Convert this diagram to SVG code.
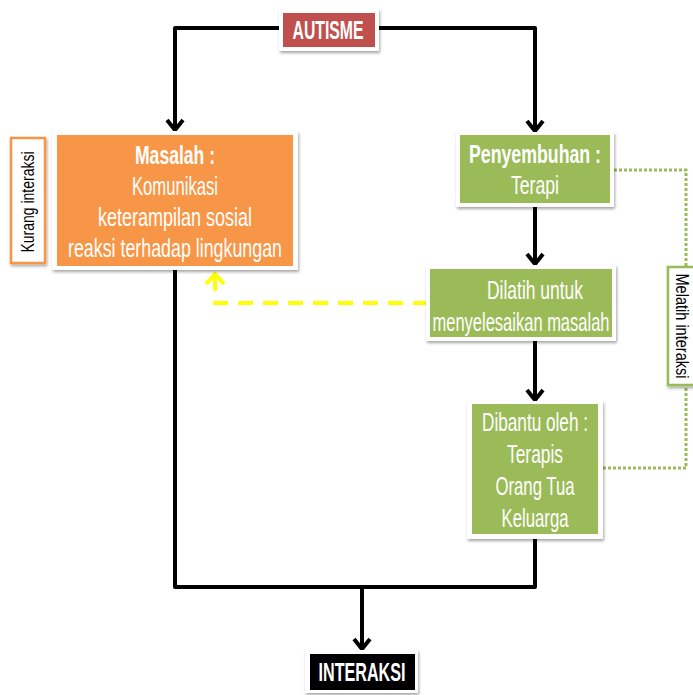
<svg xmlns="http://www.w3.org/2000/svg" width="693" height="695" viewBox="0 0 693 695">
<style>
.t{font-family:"Liberation Sans",Arial,sans-serif;fill:#fff;text-anchor:middle;dominant-baseline:central;font-size:25px}
.b{font-weight:bold}
.k{font-family:"Liberation Sans",Arial,sans-serif;fill:#000;text-anchor:middle;dominant-baseline:central;font-size:18px}
.frame{fill:#fff}
.blk{fill:none;stroke:#000;stroke-width:4;stroke-linejoin:round}
.yel{fill:none;stroke:#FFFF00;stroke-width:4}
</style>
<defs>
<filter id="sh" x="-20%" y="-20%" width="140%" height="140%">
<feDropShadow dx="1" dy="2" stdDeviation="1.8" flood-color="#000" flood-opacity="0.35"/>
</filter>
<marker id="ah" markerUnits="userSpaceOnUse" viewBox="-16 -12 20 24" refX="0" refY="0" markerWidth="20" markerHeight="24" orient="auto" overflow="visible">
<path d="M -11 -8 L -1 0 L -11 8" fill="none" stroke="#000" stroke-width="4" stroke-linejoin="miter"/>
</marker>
</defs>
<rect width="693" height="695" fill="#fff"/>
<g id="connectors">
<path class="blk" d="M 282 28 H 175 V 131" marker-end="url(#ah)"/>
<path class="blk" d="M 376 28 H 535 V 132" marker-end="url(#ah)"/>
<path class="blk" d="M 535 207 V 265" marker-end="url(#ah)"/>
<path class="blk" d="M 535 341 V 401" marker-end="url(#ah)"/>
<path class="blk" d="M 175 270 V 587 H 535 V 539"/>
<path class="blk" d="M 362 587 V 650" marker-end="url(#ah)"/>
<path class="yel" d="M 428 303 H 215 V 285" stroke-dasharray="15 10"/>
<path class="yel" d="M 215 285 V 275"/>
<path class="yel" d="M 206 284 L 215 274 L 224 284"/>
<path d="M 614 170 H 686 V 468 H 603" fill="none" stroke="#9BBB59" stroke-width="3" stroke-dasharray="3 2"/>
</g>
<g id="autisme">
<rect x="279" y="9" width="100" height="42" class="frame" filter="url(#sh)"/>
<rect x="283" y="13" width="92" height="34" fill="#C0504D"/>
<text class="t b" x="328" y="30" font-size="28" textLength="71" lengthAdjust="spacingAndGlyphs">AUTISME</text>
</g>
<g id="masalah">
<rect x="52" y="131" width="246" height="139" class="frame" filter="url(#sh)"/>
<rect x="57" y="135" width="236" height="131" fill="#F79646"/>
<text class="t b" x="175" y="155" textLength="80" lengthAdjust="spacingAndGlyphs">Masalah :</text>
<text class="t" x="175" y="186" textLength="86" lengthAdjust="spacingAndGlyphs">Komunikasi</text>
<text class="t" x="175" y="217" textLength="154" lengthAdjust="spacingAndGlyphs">keterampilan sosial</text>
<text class="t" x="175" y="248" textLength="214" lengthAdjust="spacingAndGlyphs">reaksi terhadap lingkungan</text>
</g>
<g id="kurang">
<rect x="11" y="138" width="34" height="125" fill="#fff" stroke="#F79646" stroke-width="2.5" filter="url(#sh)"/>
<text class="k" transform="translate(28,202) rotate(-90)" textLength="101" lengthAdjust="spacingAndGlyphs">Kurang interaksi</text>
</g>
<g id="penyembuhan">
<rect x="456" y="132" width="158" height="75" class="frame" filter="url(#sh)"/>
<rect x="460" y="135" width="150" height="68" fill="#9BBB59"/>
<text class="t b" x="535" y="154" textLength="132" lengthAdjust="spacingAndGlyphs">Penyembuhan :</text>
<text class="t" x="535" y="185" textLength="48" lengthAdjust="spacingAndGlyphs">Terapi</text>
</g>
<g id="dilatih">
<rect x="426" y="265" width="190" height="76" class="frame" filter="url(#sh)"/>
<rect x="430" y="269" width="182" height="68" fill="#9BBB59"/>
<text class="t" x="535" y="290" textLength="96" lengthAdjust="spacingAndGlyphs">Dilatih untuk</text>
<text class="t" transform="translate(521,322) scale(0.66,1)" x="0" y="0">menyelesaikan masalah</text>
</g>
<g id="dibantu">
<rect x="467" y="401" width="136" height="138" class="frame" filter="url(#sh)"/>
<rect x="472" y="404" width="126" height="130" fill="#9BBB59"/>
<text class="t" x="535" y="422" textLength="106" lengthAdjust="spacingAndGlyphs">Dibantu oleh :</text>
<text class="t" x="535" y="454" textLength="56" lengthAdjust="spacingAndGlyphs">Terapis</text>
<text class="t" x="535" y="486" textLength="79" lengthAdjust="spacingAndGlyphs">Orang Tua</text>
<text class="t" x="535" y="518" textLength="67" lengthAdjust="spacingAndGlyphs">Keluarga</text>
</g>
<g id="melatih">
<rect x="668" y="267" width="30" height="118" fill="#fff" stroke="#9BBB59" stroke-width="2.5" filter="url(#sh)"/>
<text class="k" transform="translate(682,326) rotate(90)" textLength="105" lengthAdjust="spacingAndGlyphs">Melatih interaksi</text>
</g>
<g id="interaksi">
<rect x="305" y="650" width="113" height="43" class="frame" filter="url(#sh)"/>
<rect x="310" y="654" width="105" height="36" fill="#000"/>
<text class="t b" x="362" y="672" font-size="28" textLength="87" lengthAdjust="spacingAndGlyphs">INTERAKSI</text>
</g>
</svg>
